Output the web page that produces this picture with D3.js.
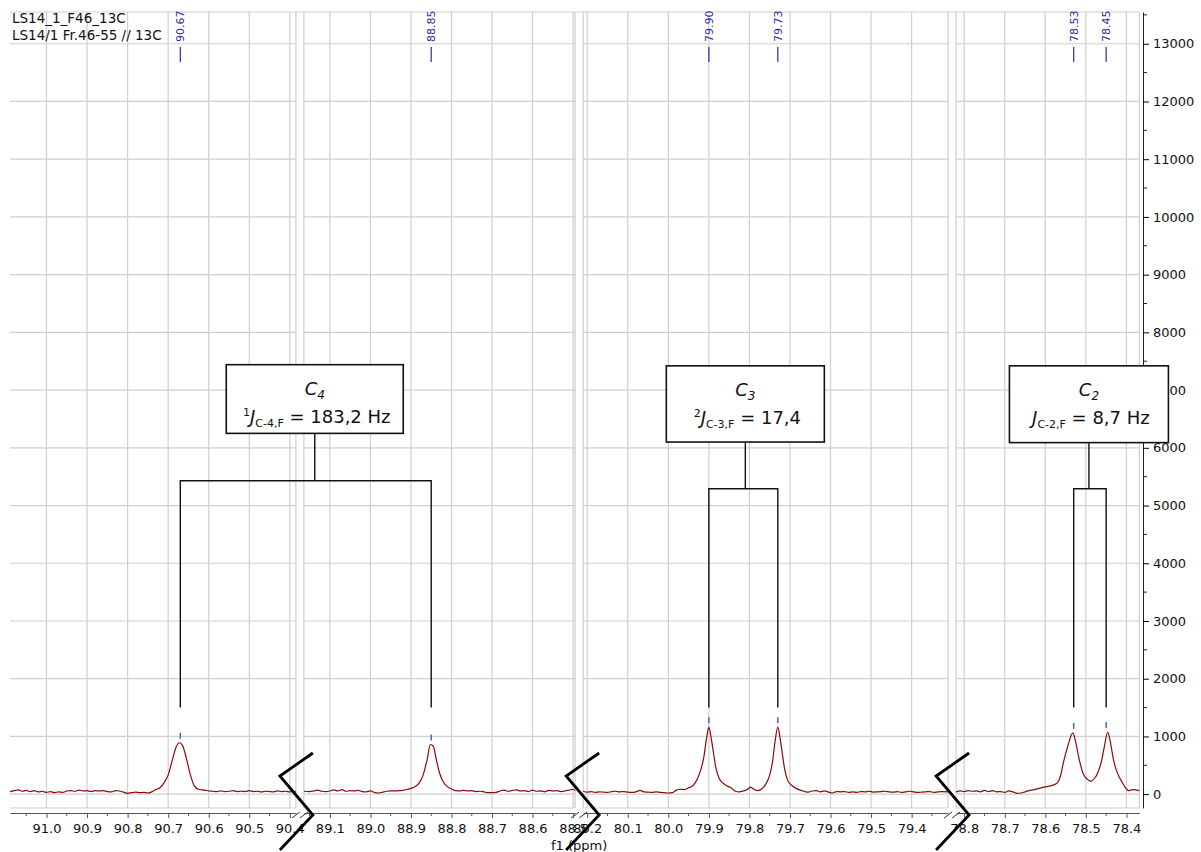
<!DOCTYPE html>
<meta charset="utf-8">
<script src="https://d3js.org/d3.v7.min.js"></script>
<style>
  body { margin: 0; background: #fff; }
  text { font-family: "DejaVu Sans", sans-serif; }
</style>
<body>
<div id="chart"></div>
<script>
// ppm window of each broken-axis segment (left to right)
var segDomains = [[91.09, 90.385], [89.164, 88.495], [80.21, 79.31], [78.82, 78.368]];

// major tick labels for each segment
var segTicks = [
  [91.0, 90.9, 90.8, 90.7, 90.6, 90.5, 90.4],
  [89.1, 89.0, 88.9, 88.8, 88.7, 88.6, 88.5],
  [80.2, 80.1, 80.0, 79.9, 79.8, 79.7, 79.6, 79.5, 79.4],
  [78.8, 78.7, 78.6, 78.5, 78.4]
];

var yTicks = [0, 1000, 2000, 3000, 4000, 5000, 6000, 7000, 8000, 9000, 10000, 11000, 12000, 13000];

// spectrum: [ppm, intensity]
var spec1 = [[91.09,45],[91.08,60],[91.07,75],[91.06,50],[91.05,65],[91.04,45],[91.03,60],[91.02,40],[91.01,50],[91.00,30],
  [90.99,45],[90.98,25],[90.97,40],[90.96,30],[90.95,55],[90.94,60],[90.93,50],[90.92,70],[90.91,55],[90.90,60],
  [90.89,45],[90.88,60],[90.87,55],[90.86,60],[90.85,45],[90.84,40],[90.83,60],[90.82,55],[90.81,35],[90.80,15],
  [90.79,25],[90.78,35],[90.77,25],[90.76,30],[90.75,20],[90.74,40],[90.73,80],[90.72,110],[90.71,200],[90.70,330],
  [90.69,580],[90.68,820],[90.672,890],[90.665,850],[90.655,620],[90.645,330],[90.635,140],[90.625,85],[90.61,70],
  [90.60,55],[90.59,50],[90.58,45],[90.57,55],[90.56,45],[90.55,50],[90.54,60],[90.53,45],[90.52,50],[90.51,45],
  [90.50,60],[90.49,45],[90.48,50],[90.47,40],[90.46,50],[90.45,45],[90.44,40],[90.43,55],[90.42,45],[90.41,50],
  [90.40,40],[90.385,50]];
var spec2 = [[89.164,50],[89.15,45],[89.14,55],[89.13,70],[89.12,50],[89.11,45],[89.10,55],[89.09,75],[89.08,55],[89.07,80],
  [89.06,50],[89.05,60],[89.04,55],[89.03,65],[89.02,45],[89.01,40],[89.00,55],[88.99,30],[88.98,20],[88.97,35],
  [88.96,50],[88.95,55],[88.94,55],[88.93,60],[88.92,65],[88.91,80],[88.90,100],[88.89,130],[88.88,190],[88.87,330],
  [88.86,600],[88.852,860],[88.845,830],[88.838,620],[88.83,380],[88.82,210],[88.81,130],[88.80,90],[88.79,60],
  [88.78,55],[88.77,65],[88.76,55],[88.75,60],[88.74,45],[88.73,50],[88.72,40],[88.71,25],[88.70,25],[88.69,30],
  [88.68,55],[88.67,70],[88.66,50],[88.65,65],[88.64,75],[88.63,55],[88.62,60],[88.61,45],[88.60,70],[88.59,50],
  [88.58,55],[88.57,40],[88.56,65],[88.55,55],[88.54,60],[88.53,45],[88.52,55],[88.51,70],[88.50,85],[88.495,60]];
var spec3 = [[80.21,50],[80.20,35],[80.19,45],[80.18,30],[80.17,40],[80.16,35],[80.15,30],[80.14,45],[80.13,50],[80.12,40],
  [80.11,45],[80.10,35],[80.09,30],[80.08,40],[80.07,65],[80.06,40],[80.05,35],[80.04,30],[80.03,40],[80.02,30],
  [80.01,25],[80.00,20],[79.99,25],[79.98,70],[79.97,85],[79.96,80],[79.95,110],[79.94,140],[79.93,240],[79.92,420],
  [79.913,620],[79.905,1000],[79.90,1160],[79.895,1000],[79.89,780],[79.883,470],[79.875,280],[79.865,190],[79.855,140],
  [79.845,110],[79.835,50],[79.825,40],[79.815,55],[79.805,80],[79.797,120],[79.79,90],[79.78,60],[79.77,90],[79.76,170],
  [79.75,330],[79.743,560],[79.737,900],[79.73,1160],[79.725,1000],[79.72,760],[79.713,430],[79.705,230],[79.695,150],
  [79.685,100],[79.675,70],[79.665,50],[79.655,35],[79.645,55],[79.635,60],[79.625,40],[79.615,55],[79.605,35],
  [79.595,20],[79.585,45],[79.575,40],[79.565,45],[79.555,30],[79.545,40],[79.535,30],[79.525,45],[79.515,40],
  [79.505,50],[79.495,35],[79.485,40],[79.475,45],[79.465,50],[79.455,40],[79.445,35],[79.435,45],[79.425,30],
  [79.415,40],[79.405,50],[79.395,40],[79.385,30],[79.375,35],[79.365,40],[79.355,45],[79.345,30],[79.335,40],
  [79.325,45],[79.31,40]];
var spec4 = [[78.82,40],[78.81,55],[78.80,45],[78.79,60],[78.78,50],[78.77,55],[78.76,40],[78.75,65],[78.74,45],[78.73,60],
  [78.72,40],[78.71,45],[78.70,30],[78.69,55],[78.68,40],[78.67,15],[78.66,20],[78.65,40],[78.64,60],[78.63,75],
  [78.62,90],[78.61,110],[78.60,125],[78.59,140],[78.58,160],[78.57,200],[78.562,330],[78.555,560],[78.545,820],
  [78.532,1060],[78.525,900],[78.517,620],[78.505,330],[78.495,250],[78.487,225],[78.478,280],[78.47,380],[78.462,560],
  [78.455,800],[78.446,1075],[78.44,920],[78.432,600],[78.425,420],[78.418,300],[78.41,200],[78.402,110],[78.395,60],
  [78.388,75],[78.38,80],[78.375,70],[78.368,65]];
var spectra = [spec1, spec2, spec3, spec4];

// picked peaks
var peakPpm = [90.67, 88.85, 79.90, 79.73, 78.53, 78.45];
var peakLabels = ["90.67", "88.85", "79.90", "79.73", "78.53", "78.45"];
var peakHeights = [890, 860, 1160, 1160, 1060, 1075];

// coupling annotations
var couplingCarbon = ["4", "3", "2"];
var couplingOrder = ["1", "2", ""];
var couplingSub = ["C-4,F", "C-3,F", "C-2,F"];
var couplingValue = ["183,2 Hz", "17,4", "8,7 Hz"];
var couplingPeaks = [[90.67, 88.85], [79.90, 79.73], [78.53, 78.45]];

var titleLines = ["LS14_1_F46_13C", "LS14/1 Fr.46-55 // 13C"];

// ---- layout ----
var W = 1201, H = 852;
var left = 10, gap = 8, pxPerPpm = 405.5;
var yTop = 12, yBottom = 808, axisY = 813, yAxisX = 1143;

var svg = d3.select("#chart").append("svg")
  .attr("width", W).attr("height", H)
  .style("display", "block");

svg.append("rect").attr("width", W).attr("height", H).attr("fill", "#fff");

// one x scale per segment
var xs = [];
var xpos = left;
segDomains.forEach(function(d) {
  var w = (d[0] - d[1]) * pxPerPpm;
  xs.push(d3.scaleLinear().domain(d).range([xpos, xpos + w]));
  xpos += w + gap;
});
var plotRight = xs[3].range()[1];

var y = d3.scaleLinear().domain([-240, 13550]).range([yBottom, yTop]);

function segOf(p) {
  for (var i = 0; i < segDomains.length; i++)
    if (p <= segDomains[i][0] && p >= segDomains[i][1]) return i;
  return -1;
}
function px(p) { return xs[segOf(p)](p); }

var gridColor = "#cfcfcf";

// grid
xs.forEach(function(x, i) {
  var r = x.range();
  var g = svg.append("g");
  g.selectAll(".vg").data(segTicks[i]).enter().append("line")
    .attr("x1", function(d) { return x(d); }).attr("x2", function(d) { return x(d); })
    .attr("y1", yTop).attr("y2", yBottom)
    .attr("stroke", gridColor).attr("stroke-width", 1.2);
  g.selectAll(".hg").data(yTicks).enter().append("line")
    .attr("x1", r[0]).attr("x2", r[1])
    .attr("y1", function(d) { return y(d); }).attr("y2", function(d) { return y(d); })
    .attr("stroke", gridColor).attr("stroke-width", 1.2);
  // frame bits
  g.append("line").attr("x1", r[0]).attr("x2", r[1]).attr("y1", yBottom).attr("y2", yBottom)
    .attr("stroke", gridColor).attr("stroke-width", 1.2);
  if (i > 0) g.append("line").attr("x1", r[0]).attr("x2", r[0]).attr("y1", yTop).attr("y2", yBottom)
    .attr("stroke", gridColor).attr("stroke-width", 1.2);
  if (i < 3) g.append("line").attr("x1", r[1]).attr("x2", r[1]).attr("y1", yTop).attr("y2", yBottom)
    .attr("stroke", gridColor).attr("stroke-width", 1.2);
});
svg.append("line").attr("x1", left).attr("x2", plotRight).attr("y1", yTop).attr("y2", yTop)
  .attr("stroke", gridColor).attr("stroke-width", 1.2);
svg.append("line").attr("x1", plotRight).attr("x2", plotRight).attr("y1", yTop).attr("y2", yBottom)
  .attr("stroke", gridColor).attr("stroke-width", 1.2);

// spectrum
spectra.forEach(function(s, i) {
  var line = d3.line()
    .x(function(d) { return xs[i](d[0]); })
    .y(function(d) { return y(d[1]); })
    .curve(d3.curveMonotoneX);
  svg.append("path").datum(s)
    .attr("d", line)
    .attr("fill", "none")
    .attr("stroke", "#8b0a0a")
    .attr("stroke-width", 1.2);
});

// peak picks
var peakColor = "#2b2b9b";
peakPpm.forEach(function(p, i) {
  var x = px(p);
  svg.append("line").attr("x1", x).attr("x2", x)
    .attr("y1", y(peakHeights[i]) - 10).attr("y2", y(peakHeights[i]) - 4)
    .attr("stroke", "#5c5cc0").attr("stroke-width", 1.5);
  svg.append("line").attr("x1", x).attr("x2", x).attr("y1", 47).attr("y2", 62)
    .attr("stroke", peakColor).attr("stroke-width", 1.2);
  svg.append("text")
    .attr("transform", "translate(" + (x + 4) + ",42) rotate(-90)")
    .attr("font-size", "11px").attr("fill", peakColor)
    .text(peakLabels[i]);
});

// x axes
xs.forEach(function(x, i) {
  var g = svg.append("g").attr("transform", "translate(0," + axisY + ")")
    .call(d3.axisBottom(x).tickValues(segTicks[i]).tickFormat(d3.format(".1f"))
      .tickSize(5).tickSizeOuter(0).tickPadding(6));
  g.select(".domain").attr("stroke", "#555");
  g.selectAll(".tick line").attr("stroke", "#555");
  g.selectAll("text").attr("font-size", "13px").attr("fill", "#111")
    .attr("font-family", "DejaVu Sans, sans-serif");
  var minor = segTicks[i].map(function(t) { return t + 0.05; })
    .concat([segTicks[i][segTicks[i].length - 1] - 0.05])
    .filter(function(t) { var d = x.domain(); return t <= d[0] && t >= d[1]; });
  g.selectAll(".mn").data(minor).enter().append("line")
    .attr("x1", function(d) { return x(d); }).attr("x2", function(d) { return x(d); })
    .attr("y1", 0).attr("y2", 3).attr("stroke", "#555");
});
// axis break marks "//"
for (var b = 0; b < 3; b++) {
  var gl = xs[b].range()[1], gr = xs[b + 1].range()[0];
  [gl, gr].forEach(function(gx) {
    svg.append("line").attr("x1", gx - 4).attr("x2", gx + 4)
      .attr("y1", axisY + 5).attr("y2", axisY - 1)
      .attr("stroke", "#333").attr("stroke-width", 1);
  });
}
svg.append("text").attr("x", (xs[1].range()[1] + xs[2].range()[0]) / 2).attr("y", 850)
  .attr("text-anchor", "middle").attr("font-size", "13px").attr("fill", "#111")
  .text("f1 (ppm)");

// y axis
var minorY = yTicks.map(function(d) { return d + 500; }).filter(function(d) { return d < 13550; });
var gy = svg.append("g").attr("transform", "translate(" + yAxisX + ",0)")
  .call(d3.axisRight(y).tickValues(yTicks).tickFormat(d3.format("d"))
    .tickSize(6).tickSizeOuter(0).tickPadding(4));
gy.select(".domain").attr("stroke", "#222");
gy.selectAll("text").attr("font-size", "13px").attr("fill", "#111")
  .attr("font-family", "DejaVu Sans, sans-serif");
gy.selectAll(".mn").data(minorY).enter().append("line")
  .attr("x1", 0).attr("x2", 4)
  .attr("y1", function(d) { return y(d); }).attr("y2", function(d) { return y(d); })
  .attr("stroke", "#222");

// title
titleLines.forEach(function(t, i) {
  svg.append("text").attr("x", 12).attr("y", 23 + i * 17)
    .attr("font-size", "13.5px").attr("fill", "#111").text(t);
});

// coupling brackets and boxes
var boxLayout = [
  { shift: 9, width: 177, top: 7440, bottom: 6250, bracket: 5430 },
  { shift: 2, width: 158, top: 7420, bottom: 6100, bracket: 5290 },
  { shift: -1, width: 159, top: 7420, bottom: 6090, bracket: 5290 }
];
var legFoot = 1500;
couplingCarbon.forEach(function(c, i) {
  var L = boxLayout[i];
  var xa = px(couplingPeaks[i][0]), xb = px(couplingPeaks[i][1]);
  var cx = (xa + xb) / 2 + L.shift;
  var g = svg.append("g").attr("stroke", "#111").attr("stroke-width", 1.4).attr("fill", "none");
  g.append("path").attr("d",
    "M" + xa + "," + y(legFoot) + "V" + y(L.bracket) + "H" + xb + "V" + y(legFoot));
  g.append("line").attr("x1", cx).attr("x2", cx).attr("y1", y(L.bracket)).attr("y2", y(L.bottom));
  g.append("rect").attr("x", cx - L.width / 2).attr("y", y(L.top))
    .attr("width", L.width).attr("height", y(L.bottom) - y(L.top))
    .attr("fill", "#fff").attr("stroke-width", 1.6);

  var t1 = svg.append("text").attr("x", cx).attr("y", y(L.top) + 30)
    .attr("text-anchor", "middle").attr("font-family", "Open Sans, sans-serif")
    .attr("font-size", "18px").attr("fill", "#111").attr("font-style", "italic");
  t1.append("tspan").text("C");
  t1.append("tspan").attr("font-size", "12px").attr("dy", 4).text(c);

  var t2 = svg.append("text").attr("x", cx + 2).attr("y", y(L.top) + 58)
    .attr("text-anchor", "middle").attr("font-family", "Open Sans, sans-serif")
    .attr("font-size", "18px").attr("fill", "#111");
  var back = 0;
  if (couplingOrder[i]) {
    t2.append("tspan").attr("font-size", "11px").attr("dy", -7).text(couplingOrder[i]);
    back = 7;
  }
  t2.append("tspan").attr("font-style", "italic").attr("dy", back).text("J");
  t2.append("tspan").attr("font-size", "11px").attr("dy", 4).text(couplingSub[i]);
  t2.append("tspan").attr("dy", -4).text(" = " + couplingValue[i]);
});

// hand-drawn break zigzags
var zigShift = [-3, 4, 1];
for (var k = 0; k < 3; k++) {
  var mx = (xs[k].range()[1] + xs[k + 1].range()[0]) / 2 + zigShift[k];
  svg.append("path")
    .attr("d", "M" + (mx + 16) + ",753L" + (mx - 17) + ",776L" + (mx + 16) + ",815L" + (mx - 17) + ",850")
    .attr("fill", "none").attr("stroke", "#000").attr("stroke-width", 2.8)
    .attr("stroke-linejoin", "miter");
}
</script>
</body>
